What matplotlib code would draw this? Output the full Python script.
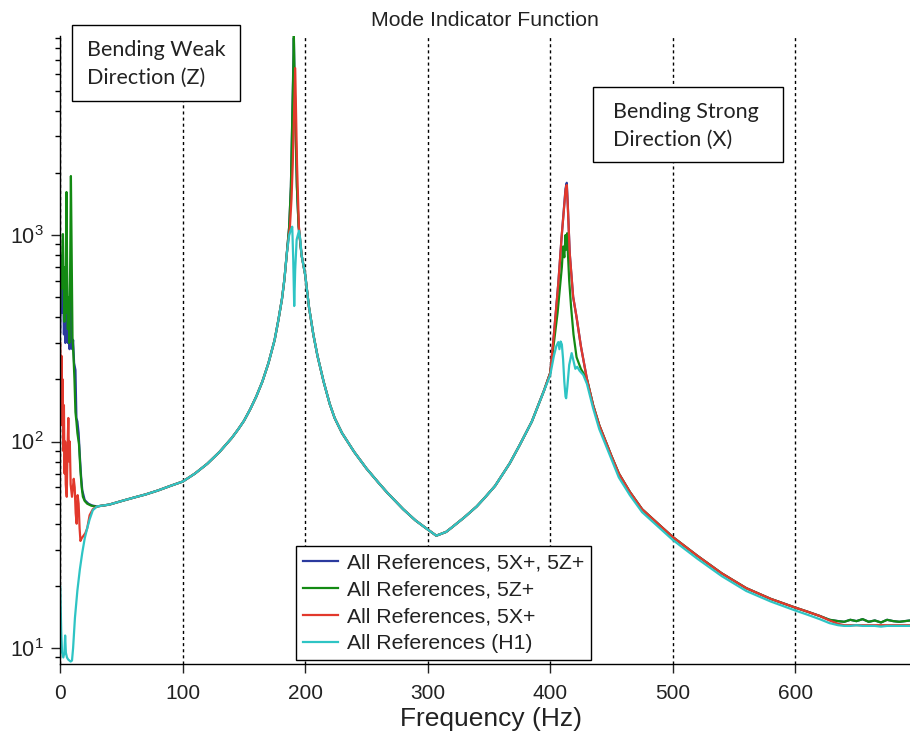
import numpy as np
import matplotlib
matplotlib.use("Agg")
import matplotlib.pyplot as plt
from matplotlib.patches import Rectangle

plt.rcParams["font.family"] = ["Liberation Sans", "DejaVu Sans"]
plt.rcParams["mathtext.fontset"] = "custom"
plt.rcParams["mathtext.rm"] = "Liberation Sans"
plt.rcParams["mathtext.default"] = "rm"

# ---- data ----
# 0-30 Hz, each reference set differs
blue_low_f = [0, 0.6, 1.2, 1.8, 2.4, 3, 3.6, 4.2, 5, 5.6, 6.3, 7, 7.6, 8.4, 9, 9.8, 10.5, 11.3, 12.4, 13.2, 14, 15, 16, 17, 18, 20, 23, 26]
blue_low_v = [340, 600, 420, 800, 500, 330, 450, 300, 600, 400, 300, 420, 280, 500, 350, 280, 310, 240, 222, 130, 125, 110, 85, 68, 58, 52, 50, 49]

green_low_f = [0, 0.6, 1.2, 1.8, 2.2, 2.8, 3.4, 4.0, 4.6, 5.1, 5.6, 6.2, 6.8, 7.4, 8.0, 8.7, 9.3, 10.0, 10.8, 11.6, 12.4, 13.2, 14, 15.3, 16.5, 17.5, 18.5, 20, 22, 25, 28]
green_low_v = [450, 700, 550, 900, 1010, 600, 380, 700, 420, 1615, 700, 350, 500, 300, 600, 1930, 800, 320, 260, 200, 139, 125, 110, 97, 72, 60, 54, 51.5, 50, 49, 48.5]

red_low_f = [0, 0.5, 1, 1.5, 2, 2.5, 3, 3.5, 4, 4.5, 5.3, 6, 6.6, 7.2, 7.8, 8.5, 9.6, 10.3, 11, 11.8, 12.6, 13.4, 14.2, 15, 15.8, 16.5, 17.5, 19, 20.5, 22, 24, 26.6]
red_low_v = [300, 150, 260, 120, 200, 90, 150, 70, 100, 62, 54, 95, 130, 80, 100, 62, 54, 60, 66, 60, 45, 40, 55, 50, 38, 33, 34, 35, 36, 38, 44, 47]

cyan_low_f = [0, 0.8, 1.5, 2.5, 3.4, 4, 4.6, 5.5, 6.5, 7.5, 8.5, 9.6, 10.5, 12, 14, 16, 18, 20, 22, 24, 26.6]
cyan_low_v = [19.8, 12, 9.5, 9.0, 9.5, 11.5, 9.5, 9.0, 8.8, 8.7, 8.6, 8.7, 10, 14, 19, 24, 29, 34, 38, 42, 46.5]

# 30-183 Hz, shared by all
base_f = [30, 40, 50, 60, 70, 80, 90, 100, 110, 120, 130, 140, 145, 150, 155, 160, 165, 170, 175, 178, 181, 183]
base_v = [48.5, 49.5, 51.5, 53.5, 55.5, 58, 61, 64, 70, 78, 89, 104, 114, 126, 143, 165, 195, 240, 310, 385, 490, 610]

# first mode (~191 Hz)
green_pk1_f = [185, 186.9, 188.3, 189.4, 190.2, 190.7, 191.2, 192, 193.2, 194.6, 197]
green_pk1_v = [818, 1097, 1714, 3600, 6000, 9400, 6000, 3600, 1714, 1097, 800]
blue_pk1_v = [818, 1097, 1714, 3600, 6000, 9000, 6000, 3600, 1714, 1097, 800]
red_pk1_f = [185, 187.5, 188.8, 189.8, 190.7, 191.3, 191.8, 192.4, 193.3, 194.8, 197]
red_pk1_v = [818, 1097, 1500, 2200, 3500, 5000, 6430, 4200, 2200, 1100, 800]
cyan_pk1_f = [185, 186.9, 188.3, 189.4, 190.2, 191, 191.8, 193, 194.9, 196, 197]
cyan_pk1_v = [818, 1000, 1060, 1097, 760, 453, 680, 950, 1049, 950, 800]

# 200-395 Hz, shared
mid_f = [200, 203, 206.6, 210, 215, 220, 224, 230, 240, 250, 260, 267, 280, 290, 300, 307, 315, 320, 330, 340, 346, 355, 367, 375, 385, 395]
mid_v = [640, 450, 330, 260, 195, 152, 130, 110, 89, 74, 63, 56.5, 47, 41.5, 37.5, 35, 36.5, 38.5, 43, 48.5, 53, 61, 78.5, 96, 125, 177]

# second mode (~414 Hz)
red_pk2_f = [400, 403, 406.6, 409.3, 411, 412.5, 413.5, 414.3, 415.9, 418.7, 421.5, 425]
red_pk2_v = [215, 330, 583, 980, 1300, 1650, 1746, 1400, 818, 502, 400, 290]
blue_pk2_v = [215, 330, 583, 980, 1300, 1680, 1790, 1420, 818, 502, 400, 290]
green_pk2_f = [400, 403, 406, 408, 409.5, 410.5, 411.5, 412.5, 413.2, 413.8, 414.5, 415.5, 417, 419, 421.5, 425]
green_pk2_v = [215, 300, 420, 560, 700, 880, 780, 1000, 850, 1020, 800, 600, 450, 330, 256, 225]
cyan_pk2_f = [400, 403, 405, 406.6, 407.5, 408.5, 409.5, 410.5, 411.5, 412.5, 413, 414, 415.5, 417.5, 419, 420.5, 422, 424, 427]
cyan_pk2_v = [210, 260, 290, 303, 280, 305, 295, 250, 195, 165, 162, 185, 235, 268, 245, 225, 230, 220, 210]

# 430 Hz to the end
tail_f = [430, 435, 440, 450, 456, 465, 475, 490, 500, 520, 540, 560, 580, 600, 610, 620, 628, 635, 640, 645, 650, 655, 660, 665, 670, 675, 680, 685, 694]
tail_v = [200, 150, 120, 85, 70, 57, 47, 39, 34.5, 28, 23, 19.5, 17.3, 15.7, 15.0, 14.3, 13.7, 13.5, 13.4, 13.7, 13.5, 13.8, 13.4, 13.6, 13.3, 13.7, 13.5, 13.4, 13.6]
red_tail_v = [200, 150, 120, 85, 70, 57, 47, 39, 34.5, 28, 23, 19.5, 17.3, 15.7, 15.0, 14.3, 13.6, 13.1, 12.9, 12.9, 12.9, 12.9, 12.9, 12.9, 12.9, 12.9, 12.9, 12.9, 12.9]
cyan_tail_v = [190, 145, 115, 82, 67, 55, 45.5, 37.8, 33.4, 27.1, 22.3, 18.9, 16.8, 15.2, 14.5, 13.8, 13.2, 12.9, 12.8, 12.8, 12.9, 12.8, 12.8, 12.8, 12.7, 12.8, 12.8, 12.8, 12.8]

labels = ["All References, 5X+, 5Z+", "All References, 5Z+", "All References, 5X+", "All References (H1)"]
colors = ["#2b3a9e", "#138a13", "#e2382c", "#2ec4c4"]

series = [
    (blue_low_f + base_f + green_pk1_f + mid_f + red_pk2_f + tail_f,
     blue_low_v + base_v + blue_pk1_v + mid_v + blue_pk2_v + tail_v),
    (green_low_f + base_f + green_pk1_f + mid_f + green_pk2_f + tail_f,
     green_low_v + base_v + green_pk1_v + mid_v + green_pk2_v + tail_v),
    (red_low_f + base_f + red_pk1_f + mid_f + red_pk2_f + tail_f,
     red_low_v + base_v + red_pk1_v + mid_v + red_pk2_v + red_tail_v),
    (cyan_low_f + base_f + cyan_pk1_f + mid_f + cyan_pk2_f + tail_f,
     cyan_low_v + base_v + cyan_pk1_v + mid_v + cyan_pk2_v + cyan_tail_v),
]

fig = plt.figure(figsize=(9.1, 7.4), dpi=100)
ax = fig.add_axes([0.0662, 0.1027, 0.9338, 0.8487])

for (f, v), c, lab in zip(series, colors, labels):
    ax.plot(f, v, color=c, lw=1.6, label=lab)

ax.set_yscale("log")
ax.set_xlim(0, 693.7)
ax.set_ylim(8.37, 9200)
ax.set_xticks([0, 100, 200, 300, 400, 500, 600])
ax.grid(axis="x", which="major", color="black", ls=(0, (2.2, 2.2)), lw=1.0)
ax.grid(axis="y", which="both", visible=False)

for s in ["top", "right"]:
    ax.spines[s].set_visible(False)
ax.spines["left"].set_linewidth(1.0)
ax.spines["bottom"].set_linewidth(1.0)

ax.tick_params(axis="both", which="major", direction="out", length=6.5, width=1.0,
               labelsize=15, colors="#222222")
ax.tick_params(axis="y", which="major", labelsize=15.5, pad=5.5)
ax.tick_params(axis="y", which="minor", direction="out", length=3.5, width=1.0)
ax.tick_params(axis="x", which="major", pad=8)

ax.set_xlabel("Frequency (Hz)", fontsize=19, color="#222222")
ax.xaxis.set_label_coords(0.507, -0.069)
ax.set_title("Mode Indicator Function", fontsize=15.3, color="#222222", pad=7)

leg = ax.legend(loc="lower left", bbox_to_anchor=(0.278, 0.006), borderaxespad=0,
                fontsize=15.3, frameon=True, fancybox=False, framealpha=1,
                edgecolor="black", handlelength=1.65, handletextpad=0.4,
                labelspacing=0.38, borderpad=0.32)
leg.get_frame().set_linewidth(1.0)
for t in leg.get_texts():
    t.set_color("#222222")

# annotation boxes
fig.patches.append(Rectangle((72 / 910, 1 - 101 / 740), 168 / 910, 76 / 740,
                             transform=fig.transFigure, fc="white", ec="black", lw=1.0, zorder=5))
fig.text(87 / 910, 1 - 64 / 740, "Bending Weak\nDirection (Z)", family="Lato",
         fontsize=15.5, va="center", ha="left", linespacing=1.5, color="#222222", zorder=6)
fig.patches.append(Rectangle((593 / 910, 1 - 162 / 740), 190 / 910, 75 / 740,
                             transform=fig.transFigure, fc="white", ec="black", lw=1.0, zorder=5))
fig.text(613 / 910, 1 - 125.5 / 740, "Bending Strong\nDirection (X)", family="Lato",
         fontsize=15.5, va="center", ha="left", linespacing=1.5, color="#222222", zorder=6)

fig.savefig("out.png", dpi=100)
